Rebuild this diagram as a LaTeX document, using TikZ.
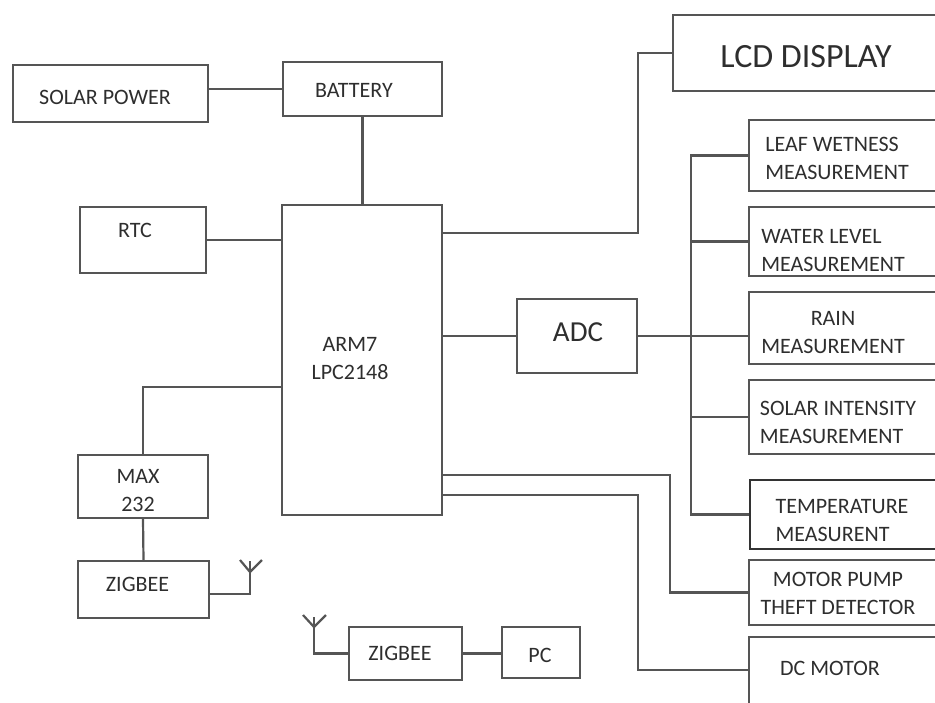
\documentclass[tikz,border=0pt]{standalone}
\usepackage{fontspec}
\setmainfont{Carlito}
\definecolor{linec}{HTML}{555555}
\definecolor{textc}{HTML}{2e2e2e}
\begin{document}
\begin{tikzpicture}[x=1pt,y=-1pt,
  box/.style={draw=linec, line width=2.2pt, inner sep=0pt, rectangle},
  txt/.style={text=textc, font=\fontsize{22}{28}\selectfont, align=center, inner sep=0pt},
  wire/.style={draw=linec, line width=2.2pt}]
\useasboundingbox (0,0) rectangle (935,702);
\clip (0,0) rectangle (935,702);
% left / centre boxes
\node[box, minimum width=195pt, minimum height=57pt] (solar) at (110.5,93.5) {};
\node[txt] (solart) at (105,97) {SOLAR POWER};
\node[box, minimum width=159pt, minimum height=54pt] (battery) at (362.5,89) {};
\node[txt] (batteryt) at (354,90) {BATTERY};
\node[box, minimum width=160pt, minimum height=310pt] (arm) at (362,360) {};
\node[txt] (armt) at (350,359) {ARM7\\LPC2148};
\node[box, minimum width=126pt, minimum height=66pt] (rtc) at (143,240) {};
\node[txt] (rtct) at (135,230) {RTC};
\node[box, minimum width=130pt, minimum height=63pt] (max) at (143,486.5) {};
\node[txt] (maxt) at (138,491) {MAX\\232};
\node[box, minimum width=131pt, minimum height=57pt] (zig1) at (143.5,589.5) {};
\node[txt] (zig1t) at (137.5,584) {ZIGBEE};
\node[box, minimum width=113pt, minimum height=53pt] (zig2) at (405.5,653.5) {};
\node[txt] (zig2t) at (400,653) {ZIGBEE};
\node[box, minimum width=78pt, minimum height=51pt] (pc) at (541,652.5) {};
\node[txt] (pct) at (540,655) {PC};
\node[box, minimum width=120pt, minimum height=74pt] (adc) at (577,336) {};
\node[txt, font=\fontsize{29}{34}\selectfont] (adct) at (578,332) {ADC};
% right boxes (cut by the right edge)
\node[box, minimum width=327pt, minimum height=76pt] (lcd) at (836.5,53) {};
\node[txt, font=\fontsize{34}{40}\selectfont] (lcdt) at (806,57) {LCD DISPLAY};
\node[box, minimum width=251pt, minimum height=71pt] (leaf) at (874.5,155.5) {};
\node[txt, align=left] (leaft) at (837,158.5) {LEAF WETNESS\\MEASUREMENT};
\node[box, minimum width=251pt, minimum height=69pt] (water) at (874.5,241.5) {};
\node[txt, align=left] (watert) at (833,251) {WATER LEVEL\\MEASUREMENT};
\node[box, minimum width=251pt, minimum height=72pt] (rain) at (874.5,328) {};
\node[txt] (raint) at (833,333) {RAIN\\MEASUREMENT};
\node[box, minimum width=251pt, minimum height=74pt] (solint) at (874.5,417) {};
\node[txt, align=left] (solintt) at (838,422) {SOLAR INTENSITY\\MEASUREMENT};
\node[box, draw=black!80, minimum width=250pt, minimum height=69pt] (temp) at (875,514.5) {};
\node[txt, align=left] (tempt) at (842,521) {TEMPERATURE\\MEASURENT};
\node[box, minimum width=251pt, minimum height=65pt] (pump) at (874.5,592.5) {};
\node[txt] (pumpt) at (838,593.5) {MOTOR PUMP\\THEFT DETECTOR};
\node[box, minimum width=251pt, minimum height=83pt] (dc) at (874.5,678.5) {};
\node[txt] (dct) at (830,668) {DC MOTOR};
% antenna points
\coordinate (a1top) at (250,561);
\coordinate (a1j) at (250,572);
\coordinate (a1l) at (240,560);
\coordinate (a1r) at (262,560);
\coordinate (a2top) at (314,617);
\coordinate (a2j) at (314,627);
\coordinate (a2l) at (303,615);
\coordinate (a2r) at (326,615);
% connectors
\draw[wire] (battery.west) -- (battery.west -| solar.east);
\draw[wire] (battery.south) -- (battery.south |- arm.north);
\draw[wire] (rtc.east) -- (rtc.east -| arm.west);
\draw[wire] ([yshift=-27pt]arm.west) -| (max.north);
\draw[wire] (max.south) -- (zig1.north);
\draw[wire] ([yshift=-4.5pt]zig1.east) -| (a1top);
\draw[wire] (a1l) -- (a1j) -- (a1r);
\draw[wire] (zig2.west) -| (a2top);
\draw[wire] (a2l) -- (a2j) -- (a2r);
\draw[wire] (zig2.east) -- (zig2.east -| pc.west);
\draw[wire] ([yshift=127pt]arm.east) -- ++(195,0) |- (lcd.west);
\draw[wire] (adc.west) -- (adc.west -| arm.east);
\draw[wire] (adc.east) -- (adc.east -| rain.west);
\path (leaf.west) ++(-57,0) coordinate (bustop);
\draw[wire] (leaf.west) -- (bustop) |- (temp.west);
\draw[wire] (water.west) -- (water.west -| bustop);
\draw[wire] (solint.west) -- (solint.west -| bustop);
\draw[wire] ([yshift=-115pt]arm.east) -- ++(227,0) |- (pump.west);
\draw[wire] ([yshift=-135pt]arm.east) -- ++(195,0) |- ([yshift=8.5pt]dc.west);
\end{tikzpicture}
\end{document}
